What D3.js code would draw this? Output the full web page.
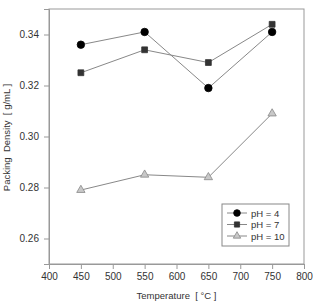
<!DOCTYPE html>
<html>
<head>
<meta charset="utf-8">
<script src="https://d3js.org/d3.v7.min.js"></script>
<style>
  body { margin: 0; background: #fff; }
  text { font-family: "Liberation Sans", Arial, sans-serif; fill: #333; white-space: pre; }
</style>
</head>
<body>
<div id="chart"></div>
<script>
// data
const temps = [450, 550, 650, 750];
const ph4 = [0.336, 0.341, 0.319, 0.341];
const ph7 = [0.325, 0.334, 0.329, 0.344];
const ph10 = [0.279, 0.285, 0.284, 0.309];
const seriesNames = ["pH = 4", "pH = 7", "pH = 10"];
const xTicks = [400, 450, 500, 550, 600, 650, 700, 750, 800];
const yTicks = [0.26, 0.28, 0.30, 0.32, 0.34];

const W = 313, H = 303;
const margin = {top: 9, right: 9, bottom: 39, left: 49};
const w = W - margin.left - margin.right;
const h = H - margin.top - margin.bottom;

const svg = d3.select("#chart").append("svg")
  .attr("width", W).attr("height", H);
const g = svg.append("g").attr("transform", `translate(${margin.left},${margin.top})`);

const x = d3.scaleLinear().domain([400, 800]).range([0, w]);
const y = d3.scaleLinear().domain([0.25, 0.35]).range([h, 0]);

// frame
g.append("rect").attr("width", w).attr("height", h)
  .attr("fill", "none").attr("stroke", "#999").attr("stroke-width", 1);

// axes
const xAxis = g.append("g").attr("transform", `translate(0,${h})`)
  .call(d3.axisBottom(x).tickValues(xTicks).tickSize(5).tickPadding(4).tickFormat(d3.format("d")));
const yAxis = g.append("g")
  .call(d3.axisLeft(y).tickValues(yTicks).tickSize(5).tickPadding(5).tickFormat(d3.format(".2f")));
[xAxis, yAxis].forEach(a => {
  a.select(".domain").attr("stroke", "#999");
  a.selectAll(".tick line").attr("stroke", "#999");
  a.selectAll("text").style("font-size", "10px").attr("fill", "#333")
    .style("font-family", "'Liberation Sans', Arial, sans-serif");
});

// axis titles
svg.append("text")
  .attr("x", margin.left + w / 2).attr("y", 299)
  .attr("text-anchor", "middle").style("font-size", "9.5px")
  .text("Temperature  [ °C ]");
svg.append("text")
  .attr("transform", `translate(10,${margin.top + h / 2 + 1}) rotate(-90)`)
  .attr("text-anchor", "middle").style("font-size", "9.5px")
  .text("Packing  Density  [ g/mL ]");

const series = [
  {name: seriesNames[0], values: ph4, shape: d3.symbolCircle, size: 44, fill: "#000", stroke: "#000"},
  {name: seriesNames[1], values: ph7, shape: d3.symbolSquare, size: 34, fill: "#333", stroke: "#333"},
  {name: seriesNames[2], values: ph10, shape: d3.symbolTriangle, size: 30, fill: "#c8c8c8", stroke: "#888"}
];

const line = d3.line().x((d, i) => x(temps[i])).y(d => y(d));

series.forEach(s => {
  g.append("path").datum(s.values)
    .attr("d", line).attr("fill", "none")
    .attr("stroke", "#888").attr("stroke-width", 1);
});
series.forEach(s => {
  g.selectAll(null).data(s.values).enter().append("path")
    .attr("d", d3.symbol().type(s.shape).size(s.size))
    .attr("transform", (d, i) => `translate(${x(temps[i])},${y(d)})`)
    .attr("fill", s.fill).attr("stroke", s.stroke).attr("stroke-width", 0.8);
});

// legend
const lg = svg.append("g").attr("transform", "translate(222,204)");
lg.append("rect").attr("width", 67).attr("height", 42)
  .attr("fill", "#fff").attr("stroke", "#888").attr("stroke-width", 1);
series.forEach((s, i) => {
  const row = lg.append("g").attr("transform", `translate(0,${9 + i * 11.5})`);
  row.append("line").attr("x1", 5).attr("x2", 25)
    .attr("stroke", "#888").attr("stroke-width", 1);
  row.append("path")
    .attr("d", d3.symbol().type(s.shape).size(s.size * 0.8))
    .attr("transform", "translate(15,0)")
    .attr("fill", s.fill).attr("stroke", s.stroke).attr("stroke-width", 0.8);
  row.append("text").attr("x", 29).attr("y", 3.5)
    .style("font-size", "9.5px").text(s.name);
});
</script>
</body>
</html>
